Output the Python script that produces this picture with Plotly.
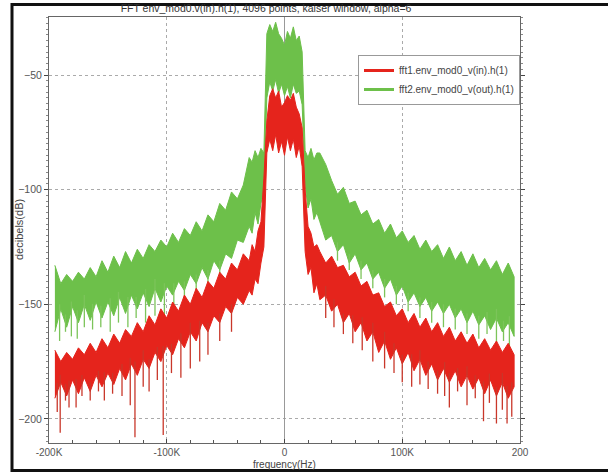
import numpy as np
import plotly.graph_objects as go

# ---------------- data ----------------
FREQ_KHZ = [-195, -190, -185, -180, -175, -170, -165, -160, -155, -150,
            -145, -140, -135, -130, -125, -120, -115, -110, -105, -100,
            -95, -90, -85, -80, -75, -70, -65, -60, -55, -50,
            -45, -40, -35, -30,
            -27.5, -25, -22.5, -20, -17.5, -15, -12.5, -10, -7.5, -5, -2.5, 0,
            2.5, 5, 7.5, 10, 12.5, 15, 17.5, 20, 22.5, 25, 27.5,
            30, 35, 40, 45, 50, 55, 60, 65, 70, 75,
            80, 85, 90, 95, 100, 105, 110, 115, 120, 125,
            130, 135, 140, 145, 150, 155, 160, 165, 170, 175,
            180, 185, 190, 195]

# fft2 (output) - green noise band: ragged top and bottom edge, dB
GREEN_UPPER = [-133, -141, -137, -140, -136, -139, -134, -138, -131, -136,
               -129, -134, -127, -132, -126, -130, -124, -127, -122, -125,
               -119, -123, -117, -120, -114, -118, -111, -114, -106, -109,
               -101, -104, -98, -86,
               -88, -83, -86, -82, -84, -32, -28, -31, -27, -32, -34, -37,
               -31, -34, -29, -35, -33, -40, -83, -86, -82, -87, -84,
               -84, -89, -96, -102, -99, -106, -105, -111, -109, -115,
               -113, -119, -115, -121, -118, -123, -120, -126, -122, -127,
               -124, -130, -125, -131, -127, -133, -128, -134, -130, -135,
               -131, -137, -132, -138]
GREEN_LOWER = [-162, -152, -160, -151, -158, -150, -157, -149, -156, -149,
               -155, -147, -154, -146, -152, -145, -151, -143, -149, -142,
               -146, -140, -144, -137, -141, -134, -139, -131, -135, -128,
               -130, -122, -123, -116,
               -119, -110, -115, -106, -100, -60, -53, -57, -52, -58, -54, -59,
               -55, -60, -54, -58, -57, -63, -98, -108, -104, -113, -110,
               -114, -122, -120, -127, -124, -132, -128, -135, -132, -139,
               -136, -143, -139, -146, -142, -149, -145, -151, -147, -153,
               -149, -154, -150, -156, -152, -158, -153, -159, -155, -161,
               -156, -162, -158, -164]

# fft1 (input) - red noise band
RED_UPPER = [-170, -175, -171, -174, -169, -172, -167, -171, -165, -169,
             -163, -167, -161, -164, -158, -162, -155, -159, -152, -156,
             -149, -153, -146, -150, -143, -147, -140, -143, -136, -139,
             -132, -135, -128, -131,
             -124, -127, -118, -114, -95, -70, -59, -56, -60, -57, -64, -62,
             -59, -61, -58, -64, -67, -73, -100, -116, -119, -125, -124,
             -127, -132, -129, -134, -133, -138, -136, -142, -140, -146,
             -145, -151, -149, -155, -152, -158, -154, -160, -156, -162,
             -158, -164, -160, -166, -162, -167, -163, -169, -165, -170,
             -166, -171, -167, -172]
RED_LOWER = [-191, -184, -190, -183, -189, -182, -188, -181, -186, -180,
             -185, -178, -183, -176, -181, -174, -178, -171, -175, -168,
             -172, -165, -169, -162, -166, -158, -162, -155, -158, -151,
             -154, -147, -150, -144,
             -146, -139, -141, -132, -125, -84, -78, -83, -76, -84, -79, -85,
             -77, -83, -78, -86, -81, -90, -127, -137, -134, -145, -141,
             -148, -146, -153, -150, -158, -154, -162, -158, -166, -162,
             -171, -166, -174, -169, -176, -171, -179, -174, -181, -176,
             -183, -178, -184, -179, -186, -181, -187, -182, -189, -183,
             -190, -184, -191, -186]

# deep single-bin dips below the bands
RED_SPIKE_KHZ = [-193, -190.5, -186, -183, -177, -172, -165, -158, -153, -146,
                 -138, -131, -127, -120, -115, -108, -103, -96, -88, -80,
                 -72, -65, -55, -45, 35, 42, 50, 58, 66, 75,
                 85, 93, 100, 108, 115, 122, 130, 136, 140, 147,
                 155, 162, 169, 174, 180, 185, 189, 193]
RED_SPIKE_DB = [-197, -206, -192, -195, -195, -190, -192, -188, -192, -189,
                -190, -194, -208, -186, -188, -183, -207, -180, -182, -178,
                -175, -172, -166, -162, -156, -160, -163, -167, -170, -175,
                -178, -180, -184, -186, -185, -187, -189, -190, -195, -188,
                -194, -191, -201, -193, -202, -196, -202, -199]
GREEN_SPIKE_KHZ = [-191, -186, -181, -176, -170, -163, -156, -148, -141, -133,
                   -126, -118, -110, -102, -94, -85, -75, -65, -55,
                   45, 55, 65, 75, 85, 95, 105, 115, 125, 135,
                   145, 155, 165, 172, 180, 186, 191]
GREEN_SPIKE_DB = [-166, -162, -164, -165, -160, -161, -160, -162, -158, -160,
                  -156, -158, -155, -156, -152, -150, -147, -144, -140,
                  -131, -135, -139, -143, -147, -150, -153, -156, -158, -160,
                  -161, -163, -165, -163, -167, -166, -170]

X_TICK_VALS = [-200000, -100000, 0, 100000, 200000]
X_TICK_TEXT = ["-200K", "-100K", "0", "100K", "200"]
Y_TICK_VALS = [-50, -100, -150, -200]

TITLE = "FFT env_mod0.v(in).h(1), 4096 points, kaiser window, alpha=6"
NAME_RED = "fft1.env_mod0_v(in).h(1)"
NAME_GREEN = "fft2.env_mod0_v(out).h(1)"

GREEN = "#6dc04a"
GREEN_SPIKE = "#7cc45a"
RED = "#e5241c"
RED_SPIKE = "#c9372a"

FONT = "Liberation Sans, Arial, sans-serif"

f_hz = np.array(FREQ_KHZ) * 1000.0


def band(upper, lower, color):
    x = list(f_hz) + list(f_hz[::-1])
    y = list(upper) + list(np.array(lower)[::-1])
    return go.Scatter(x=x, y=y, mode="lines", fill="toself", fillcolor=color,
                      line=dict(color=color, width=1), showlegend=False,
                      hoverinfo="skip")


def spikes(sk, sdb, lower, color):
    xs, ys = [], []
    for f, d in zip(sk, sdb):
        start = float(np.interp(f, FREQ_KHZ, lower)) + 4
        xs += [f * 1000.0, f * 1000.0, None]
        ys += [start, d, None]
    return go.Scatter(x=xs, y=ys, mode="lines", line=dict(color=color, width=1.3),
                      showlegend=False, hoverinfo="skip")


def legend_entry(name, color, rank):
    return go.Scatter(x=[None], y=[None], mode="lines", name=name,
                      line=dict(color=color, width=3), legendrank=rank,
                      showlegend=True)


fig = go.Figure()
fig.add_trace(band(GREEN_UPPER, GREEN_LOWER, GREEN))
fig.add_trace(spikes(GREEN_SPIKE_KHZ, GREEN_SPIKE_DB, GREEN_LOWER, GREEN_SPIKE))
fig.add_trace(band(RED_UPPER, RED_LOWER, RED))
fig.add_trace(spikes(RED_SPIKE_KHZ, RED_SPIKE_DB, RED_LOWER, RED_SPIKE))
fig.add_trace(legend_entry(NAME_RED, RED, 1))
fig.add_trace(legend_entry(NAME_GREEN, GREEN, 2))

x_tick_font = dict(family=FONT, size=10, color="#555")
y_tick_font = dict(family=FONT, size=10.5, color="#555")

fig.update_layout(
    width=608, height=472,
    margin=dict(l=49, r=88, t=17, b=29),
    paper_bgcolor="white", plot_bgcolor="white",
    title=dict(text=TITLE, x=266 / 608, xanchor="center", y=1 - 8 / 472,
               yanchor="middle", font=dict(family=FONT, size=10.5, color="#333")),
    showlegend=True,
    legend=dict(x=1.0, xanchor="right", y=(443 - 55) / 426, yanchor="top",
                bgcolor="white", bordercolor="#999", borderwidth=1,
                font=dict(family=FONT, size=10, color="#444"),
                itemwidth=30),
    font=dict(family=FONT),
)

fig.update_xaxes(
    range=[-200000, 200000], tickvals=X_TICK_VALS, ticktext=X_TICK_TEXT,
    tickfont=x_tick_font, ticks="inside", ticklen=4, tickcolor="#444",
    showline=True, linecolor="#666", linewidth=1, mirror=True,
    showgrid=True, gridcolor="#aaa", griddash="dot", gridwidth=1,
    zeroline=True, zerolinecolor="#999", zerolinewidth=1,
    layer="above traces",
    minor=dict(dtick=20000, ticks="inside", ticklen=3, tickcolor="#555", showgrid=False),
)
fig.update_yaxes(
    range=[-210.5, -24.7], tickvals=Y_TICK_VALS,
    tickfont=y_tick_font, ticks="outside", ticklen=4, tickcolor="#444",
    showline=True, linecolor="#666", linewidth=1, mirror="allticks",
    showgrid=True, gridcolor="#aaa", griddash="dot", gridwidth=1,
    zeroline=False, layer="above traces",
    minor=dict(dtick=2.5, ticks="outside", ticklen=2, tickcolor="#888", showgrid=False),
)

fig.add_annotation(text="frequency(Hz)", xref="paper", yref="paper",
                   x=(284 - 49) / 471, y=(443 - 464) / 426, showarrow=False,
                   xanchor="center", yanchor="middle", borderpad=0,
                   font=dict(family=FONT, size=10, color="#444"))
fig.add_annotation(text="decibels(dB)", xref="paper", yref="paper",
                   x=(19 - 49) / 471, y=(443 - 230) / 426, showarrow=False,
                   textangle=-90, xanchor="center", yanchor="middle",
                   font=dict(family=FONT, size=11, color="#444"))

# outer black frame of the figure
fig.add_shape(type="rect", xref="paper", yref="paper",
              x0=(12 - 49) / 471, x1=(640 - 49) / 471,
              y0=(443 - 470.5) / 426, y1=(443 - 4.5) / 426,
              line=dict(color="#111", width=3), fillcolor="rgba(0,0,0,0)", layer="above")

fig.write_html("out.html", config={"displayModeBar": False},
               post_script="document.body.style.margin='0px';")
